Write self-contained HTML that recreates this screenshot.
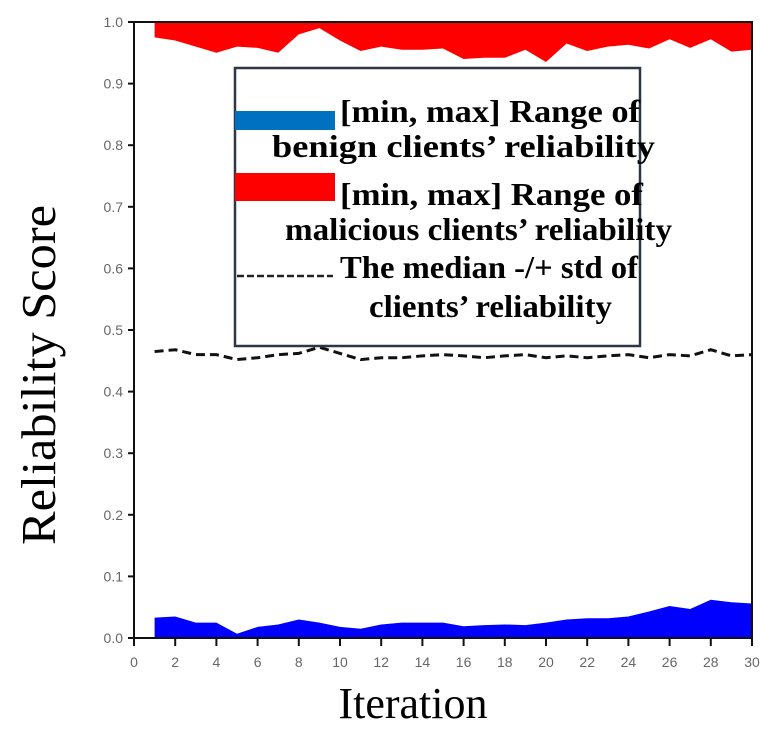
<!DOCTYPE html>
<html><head><meta charset="utf-8"><style>
html,body{margin:0;padding:0;background:#fff;}
svg{display:block;}
.tk{font-family:"Liberation Sans",sans-serif;font-size:14px;fill:#666;}
.lg{font-family:"Liberation Serif",serif;font-weight:bold;font-size:32px;fill:#000;}
</style></head><body>
<svg id="chart" width="774" height="756" viewBox="0 0 774 756">
<g id="marks"></g>
<g id="axes"></g>
<text x="55" y="375" transform="rotate(-90 55 375)" text-anchor="middle" font-family="Liberation Serif,serif" font-size="49" textLength="340" lengthAdjust="spacingAndGlyphs">Reliability Score</text>
<text x="413" y="718" text-anchor="middle" font-family="Liberation Serif,serif" font-size="44">Iteration</text>
<g>
<rect x="235" y="68" width="405" height="278" fill="#fff" stroke="#2f3645" stroke-width="2.5"/>
<rect x="235" y="111" width="100" height="19" fill="#0070c0"/>
<text class="lg" x="340" y="122" textLength="300" lengthAdjust="spacingAndGlyphs">[min, max] Range of</text>
<text class="lg" x="272" y="157" textLength="383" lengthAdjust="spacingAndGlyphs">benign clients’ reliability</text>
<rect x="235" y="173" width="100" height="28" fill="#ff0000"/>
<text class="lg" x="340" y="205" textLength="303" lengthAdjust="spacingAndGlyphs">[min, max] Range of</text>
<text class="lg" x="285" y="240" textLength="387" lengthAdjust="spacingAndGlyphs">malicious clients’ reliability</text>
<line x1="237" y1="276" x2="333" y2="276" stroke="#222" stroke-width="2.5" stroke-dasharray="7,3"/>
<text class="lg" x="340" y="278" textLength="298" lengthAdjust="spacingAndGlyphs">The median -/+ std of</text>
<text class="lg" x="369" y="317" textLength="243" lengthAdjust="spacingAndGlyphs">clients’ reliability</text>
</g>
</svg>
<script>
const iterations=[1,2,3,4,5,6,7,8,9,10,11,12,13,14,15,16,17,18,19,20,21,22,23,24,25,26,27,28,29,30];
const maliciousMin=[0.975,0.97,0.96,0.95,0.96,0.958,0.95,0.98,0.99,0.97,0.953,0.96,0.955,0.955,0.957,0.94,0.942,0.942,0.955,0.935,0.965,0.953,0.96,0.963,0.957,0.972,0.958,0.972,0.952,0.955];
const benignMax=[0.033,0.035,0.025,0.025,0.007,0.018,0.022,0.03,0.025,0.018,0.015,0.022,0.025,0.025,0.025,0.019,0.021,0.022,0.021,0.025,0.03,0.032,0.032,0.035,0.043,0.052,0.047,0.062,0.058,0.056];
const medianVals=[0.465,0.468,0.46,0.46,0.452,0.455,0.46,0.462,0.472,0.462,0.452,0.455,0.455,0.458,0.46,0.458,0.455,0.458,0.46,0.455,0.458,0.455,0.458,0.46,0.455,0.46,0.458,0.468,0.458,0.46];
const xTicks=[0,2,4,6,8,10,12,14,16,18,20,22,24,26,28,30];
const yTicks=[0,0.1,0.2,0.3,0.4,0.5,0.6,0.7,0.8,0.9,1.0];
const X0=134,X1=752,Y0=638,Y1=22;
const sx=v=>X0+(X1-X0)*v/30, sy=v=>Y0-(Y0-Y1)*v;
const NS="http://www.w3.org/2000/svg";
const marks=document.getElementById('marks'), axes=document.getElementById('axes');
function mk(tag,attrs,parent){const e=document.createElementNS(NS,tag);for(const k in attrs)e.setAttribute(k,attrs[k]);parent.appendChild(e);return e;}
let d='M'+sx(iterations[0])+','+sy(1);
iterations.forEach((it,i)=>{d+=' L'+sx(it)+','+sy(maliciousMin[i]);});
d+=' L'+sx(iterations[iterations.length-1])+','+sy(1)+' Z';
const red=mk('path',{d:d,fill:'#ff0000'},marks);


d='M'+sx(iterations[0])+','+sy(0);
iterations.forEach((it,i)=>{d+=' L'+sx(it)+','+sy(benignMax[i]);});
d+=' L'+sx(iterations[iterations.length-1])+','+sy(0)+' Z';
const blue=mk('path',{d:d,fill:'#0000ff'},marks);


const pts=iterations.map((it,i)=>sx(it)+','+sy(medianVals[i])).join(' ');
const med=mk('polyline',{points:pts,fill:'none',stroke:'#111','stroke-width':3,'stroke-dasharray':'9,5'},marks);


const fr=mk('path',{d:`M${X0},${Y1} L${X0},${Y0} L${X1},${Y0} L${X1},${Y1} L${X0},${Y1}`,fill:'none',stroke:'#111','stroke-width':2},axes);


xTicks.forEach(t=>{
 const l=mk('line',{x1:sx(t),x2:sx(t),y1:Y0,y2:Y0+8,stroke:'#111','stroke-width':2},axes);
 
 
 const tx=mk('text',{x:sx(t),y:Y0+29,'text-anchor':'middle','class':'tk'},axes);
 tx.textContent=t;
 
 
});
yTicks.forEach(t=>{
 const l=mk('line',{x1:X0-6,x2:X0,y1:sy(t),y2:sy(t),stroke:'#111','stroke-width':2},axes);
 
 
 const tx=mk('text',{x:X0-11,y:sy(t)+5,'text-anchor':'end','class':'tk'},axes);
 tx.textContent=t.toFixed(1);
 
 
});
</script>
</body></html>
